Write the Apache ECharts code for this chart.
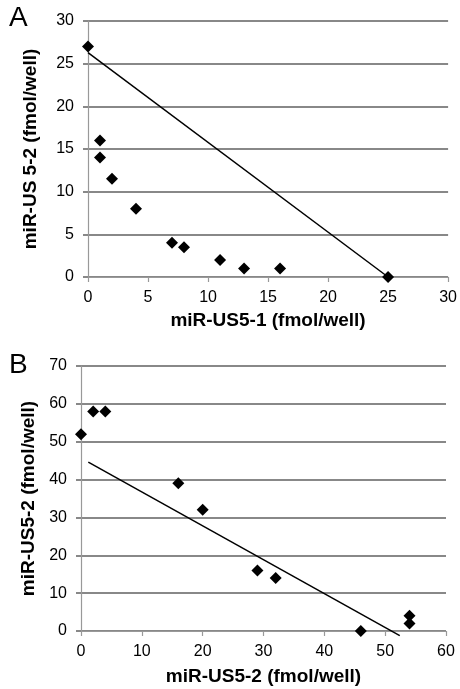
<!DOCTYPE html>
<html>
<head>
<meta charset="utf-8">
<script src="https://cdn.jsdelivr.net/npm/echarts@6/dist/echarts.min.js"></script>
<style>
html, body { margin: 0; padding: 0; background: #fff; }
#main { width: 460px; height: 689px; }
</style>
</head>
<body>
<div id="main"></div>
<script>
// panel A
var pointsA = [[0, 27], [1, 16], [1, 14], [2, 11.5], [4, 8], [7, 4], [8, 3.5], [11, 2], [13, 1], [16, 1], [25, 0]];
var lineA = [[0, 26.3], [25, 0]];
// panel B
var pointsB = [[0, 52], [2, 58], [4, 58], [16, 39], [20, 32], [29, 16], [32, 14], [46, 0], [54, 4], [54, 2]];
var lineB = [[1.2, 44.6], [52.4, -1.2]];

var font = 'Liberation Sans, Arial, sans-serif';

function xAx(grid, max, interval, name, gap) {
	return {
		type: 'value', gridIndex: grid, min: 0, max: max, interval: interval,
		name: name, nameLocation: 'middle', nameGap: gap,
		nameTextStyle: { fontFamily: font, fontSize: 19, fontWeight: 'bold', color: '#000' },
		axisLine: { show: true, lineStyle: { color: '#999', width: 1.2 } },
		axisTick: { show: true, length: 5, lineStyle: { color: '#999', width: 1.2 } },
		axisLabel: { fontFamily: font, fontSize: 16, color: '#000', margin: 13 },
		splitLine: { show: false }
	};
}
function yAx(grid, max, interval, name, gap) {
	return {
		type: 'value', gridIndex: grid, min: 0, max: max, interval: interval,
		name: name, nameLocation: 'middle', nameGap: gap,
		nameTextStyle: { fontFamily: font, fontSize: 19, fontWeight: 'bold', color: '#000' },
		axisLine: { show: true, lineStyle: { color: '#999', width: 1.2 } },
		axisTick: { show: true, length: 5, lineStyle: { color: '#888', width: 2 } },
		axisLabel: { fontFamily: font, fontSize: 16, color: '#000', margin: 14 },
		// thinner grey lines vanished in the rendered picture
		splitLine: { show: true, lineStyle: { color: '#888', width: 2 } }
	};
}

var myChart = echarts.init(document.getElementById('main'));
option = {
	animation: false,
	title: [
		{ text: 'A', left: 9, top: 4, padding: 0, textStyle: { fontFamily: font, fontSize: 28, fontWeight: 'normal', color: '#000' } },
		{ text: 'B', left: 9, top: 351, padding: 0, textStyle: { fontFamily: font, fontSize: 28, fontWeight: 'normal', color: '#000' } }
	],
	grid: [
		{ left: 88, top: 21, width: 363, height: 256 },
		{ left: 81, top: 366, width: 365, height: 265 }
	],
	xAxis: [
		xAx(0, 30, 5, 'miR-US5-1 (fmol/well)', 34),
		xAx(1, 60, 10, 'miR-US5-2 (fmol/well)', 36)
	],
	yAxis: [
		yAx(0, 30, 5, 'miR-US 5-2 (fmol/well)', 48),
		yAx(1, 70, 10, 'miR-US5-2 (fmol/well)', 41)
	],
	series: [
		{ type: 'line', xAxisIndex: 0, yAxisIndex: 0, data: lineA, symbol: 'none', clip: false,
		  lineStyle: { color: '#000', width: 1.5 } },
		{ type: 'scatter', xAxisIndex: 0, yAxisIndex: 0, data: pointsA, symbol: 'diamond', symbolSize: 12,
		  itemStyle: { color: '#000', opacity: 1 } },
		{ type: 'line', xAxisIndex: 1, yAxisIndex: 1, data: lineB, symbol: 'none', clip: false,
		  lineStyle: { color: '#000', width: 1.5 } },
		{ type: 'scatter', xAxisIndex: 1, yAxisIndex: 1, data: pointsB, symbol: 'diamond', symbolSize: 12,
		  clip: false, itemStyle: { color: '#000', opacity: 1 } }
	]
};
myChart.setOption(option);
</script>
</body>
</html>
